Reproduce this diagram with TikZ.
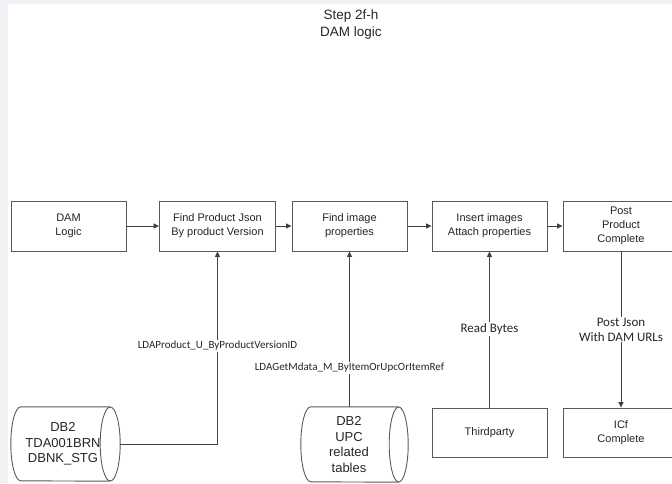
\documentclass[tikz,border=0pt]{standalone}
\usepackage{fontspec}
\setmainfont{Liberation Sans}
\newfontfamily\calfont{Carlito}
\usetikzlibrary{arrows.meta}
\definecolor{edgegrey}{HTML}{5A5A5A}
\definecolor{linegrey}{HTML}{404040}
\definecolor{inkgrey}{HTML}{262626}
\definecolor{stripgrey}{HTML}{EFF1F4}
\tikzset{
  procbox/.style={draw=edgegrey, line width=0.9pt, fill=white, rectangle,
    minimum width=115pt, minimum height=50pt, inner sep=0pt, align=center,
    text=inkgrey, font=\fontsize{11}{14}\selectfont},
  dbtext/.style={rectangle, draw=none, minimum height=74pt, inner sep=0pt,
    align=center, text=inkgrey, font=\fontsize{13}{15.5}\selectfont},
  dbline/.style={draw=edgegrey, line width=0.9pt},
  flow/.style={draw=linegrey, line width=0.8pt, -{Triangle[length=5.5pt,width=5pt]}},
  tag/.style={fill=white, inner sep=1pt, text=inkgrey, align=center},
  heading/.style={text=inkgrey, align=center, font=\fontsize{13.5}{17}\selectfont}
}
\begin{document}
\begin{tikzpicture}[x=1pt, y=-1pt]
  \useasboundingbox (0,0) rectangle (672,483);
  \clip (0,0) rectangle (672,483);
  % page background with the thin grey margin strips
  \fill[white] (0,0) rectangle (672,483);
  \fill[stripgrey] (0,0) rectangle (8,483);
  \fill[stripgrey] (0,0) rectangle (672,4);

  % title
  \node[heading] (title) at (351,24.5) {Step 2f-h\\DAM logic};

  % top row of processing steps
  \node[procbox] (dam)  at (68.5,226)  {DAM\\Logic};
  \node[procbox, minimum width=116pt] (fpj) at (217.5,226) {Find Product Json\\By product Version};
  \node[procbox] (fimg) at (349.5,226) {Find image\\properties};
  \node[procbox] (ins)  at (489.5,226) {Insert images\\Attach properties};
  \node[procbox, minimum width=116pt] (post) at (621,226) {Post\\Product\\Complete};

  % bottom row: stored tables (horizontal drums) and targets
  \node[dbtext, minimum width=114pt] (db1) at (63,444) {DB2\\TDA001BRN\\DBNK\_STG};
  \draw[dbline] ([xshift=-10pt]db1.north east) -- ([xshift=15pt]db1.north west)
    arc[start angle=90, end angle=270, x radius=10pt, y radius=37pt]
    -- ([xshift=-10pt]db1.south east);
  \draw[dbline] ([xshift=-10pt]db1.east) ellipse[x radius=10pt, y radius=37pt];

  \node[dbtext, minimum width=118pt, minimum height=75pt] (db2) at (349,444.5) {DB2\\UPC\\related\\tables};
  \draw[dbline] ([xshift=-9.5pt]db2.north east) -- ([xshift=21pt]db2.north west)
    arc[start angle=90, end angle=270, x radius=10pt, y radius=37.5pt]
    -- ([xshift=-9.5pt]db2.south east);
  \draw[dbline] ([xshift=-9.5pt]db2.east) ellipse[x radius=9.5pt, y radius=37.5pt];

  \node[procbox, minimum height=49pt] (third) at (489.5,432.5) {Thirdparty};
  \node[procbox, minimum width=116pt, minimum height=49pt] (icf) at (621,432.5) {ICf\\Complete};

  % main flow
  \draw[flow] (dam) -- (fpj);
  \draw[flow] (fpj) -- (fimg);
  \draw[flow] (fimg) -- (ins);
  \draw[flow] (ins) -- (post);

  % feeds from below
  \draw[flow] (db1.east) -| (fpj.south);
  \draw[flow] (fimg.south |- db2.north) -- (fimg.south);
  \draw[flow] (third.north) -- (ins.south);
  \draw[flow] (post.south) -- (icf.north);

  % connector labels
  \node[tag, font=\calfont\fontsize{11}{13}\selectfont] (lbl1) at (217.5,346) {LDAProduct\_U\_ByProductVersionID};
  \node[tag, font=\calfont\fontsize{11}{13}\selectfont] (lbl2) at (349.5,368) {LDAGetMdata\_M\_ByItemOrUpcOrItemRef};
  \node[tag, font=\calfont\fontsize{13}{15}\selectfont] (lbl3) at (489.5,329) {Read Bytes};
  \node[tag, font=\calfont\fontsize{13}{15}\selectfont] (lbl4) at (621,329.5) {Post Json\\With DAM URLs};
\end{tikzpicture}
\end{document}
